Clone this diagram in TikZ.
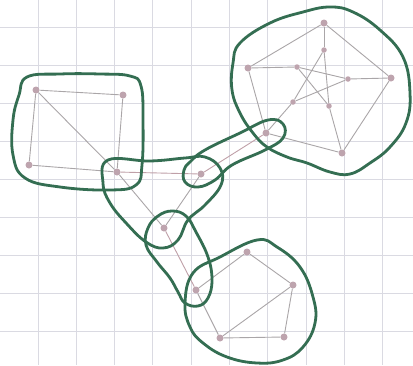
\documentclass[tikz,border=0pt]{standalone}
\definecolor{gridc}{RGB}{218,218,226}
\definecolor{ecol}{RGB}{170,166,168}
\definecolor{pcol}{RGB}{192,160,168}
\definecolor{vcol}{RGB}{190,164,174}
\definecolor{gcol}{RGB}{52,110,82}
\begin{document}
\begin{tikzpicture}[x=1pt,y=-1pt,
  vtx/.style={circle,fill=vcol,inner sep=0pt,minimum size=7pt},
  svtx/.style={circle,fill=vcol,inner sep=0pt,minimum size=5.5pt},
  edge/.style={draw=ecol,line width=0.9pt},
  pedge/.style={draw=pcol,line width=0.9pt},
  blob/.style={draw=gcol,line width=2.8pt,line join=round,line cap=round},
  gridline/.style={draw=gridc,line width=1pt}]
\fill[white] (0,0) rectangle (413,365);
\useasboundingbox (0,0) rectangle (413,365);
% grid paper
\foreach \k in {0,...,9} {\draw[gridline] (38+38.3*\k,0) -- (38+38.3*\k,365);}
\foreach \k in {0,...,8} {\draw[gridline] (0,27+38*\k) -- (413,27+38*\k);}
% vertices
\node[vtx] (A) at (36,90) {};
\node[vtx] (B) at (123,95) {};
\node[vtx] (C) at (29,165) {};
\node[vtx] (D) at (117,172) {};
\node[vtx] (E) at (201,174) {};
\node[vtx] (F) at (266,133) {};
\node[vtx] (G) at (164,228) {};
\node[vtx] (H) at (196,290) {};
\node[vtx] (P1) at (247,252) {};
\node[vtx] (P2) at (293,285) {};
\node[vtx] (P3) at (284,337) {};
\node[vtx] (P4) at (220,338) {};
\node[vtx] (O1) at (324,23) {};
\node[vtx] (O2) at (391,78) {};
\node[vtx] (O3) at (342,153) {};
\node[vtx] (O5) at (248,68) {};
\node[svtx] (I1) at (324,50) {};
\node[svtx] (I2) at (348,79) {};
\node[svtx] (I3) at (329,106) {};
\node[svtx] (I4) at (293,102) {};
\node[svtx] (I5) at (297,67) {};
% edges
\draw[edge] (A) -- (B);
\draw[edge] (A) -- (C);
\draw[edge] (B) -- (D);
\draw[edge] (C) -- (D);
\draw[edge] (A) -- (D);
\draw[pedge] (D) -- (E);
\draw[edge] (D) -- (G);
\draw[edge] (E) -- (G);
\draw[pedge] (E) -- (F);
\draw[pedge] (G) -- (H);
\draw[edge] (H) -- (P1);
\draw[edge] (P1) -- (P2);
\draw[edge] (P2) -- (P3);
\draw[edge] (P3) -- (P4);
\draw[edge] (P4) -- (H);
\draw[edge] (P2) -- (P4);
\draw[edge] (O1) -- (O2);
\draw[edge] (O2) -- (O3);
\draw[edge] (O3) -- (F);
\draw[edge] (F) -- (O5);
\draw[edge] (O5) -- (O1);
\draw[edge] (O1) -- (I1);
\draw[edge] (O2) -- (I2);
\draw[edge] (O3) -- (I3);
\draw[edge] (F) -- (I4);
\draw[edge] (O5) -- (I5);
\draw[edge] (I1) -- (I3);
\draw[edge] (I1) -- (I4);
\draw[edge] (I5) -- (I2);
\draw[edge] (I5) -- (I3);
\draw[edge] (I4) -- (I2);
% green blobs
\draw[blob] plot[smooth cycle,tension=0.7] coordinates {(27,77) (60,74) (100,74) (130,76) (141,86) (143,120) (142,165) (136,185) (110,190) (60,187) (25,178) (13,155) (13,120) (19,95)};
\draw[blob] plot[smooth cycle,tension=0.7] coordinates {(240,43) (270,23) (303,12) (330,7) (353,12) (380,30) (403,57) (410,93) (406,123) (390,147) (370,163) (350,174) (330,172) (307,163) (287,157) (267,147) (253,133) (240,113) (232,90) (233,63)};
\draw[blob] plot[smooth cycle,tension=0.7] coordinates {(193,273) (220,257) (257,240) (277,247) (300,267) (313,297) (315,323) (303,347) (283,360) (257,363) (227,357) (203,343) (190,327) (185,303)};
\draw[blob] plot[smooth cycle,tension=0.7] coordinates {(108,160) (150,161) (185,158) (205,157) (220,168) (221,185) (205,205) (188,220) (178,240) (163,248) (146,242) (127,224) (110,203) (103,183)};
\draw[blob] plot[smooth cycle,tension=0.7] coordinates {(190,162) (205,150) (240,133) (268,120) (283,124) (283,138) (265,150) (232,165) (215,180) (198,187) (185,182) (184,170)};
\draw[blob] plot[smooth cycle,tension=0.7] coordinates {(148,228) (158,216) (172,211) (186,216) (196,232) (208,257) (212,280) (208,298) (198,306) (185,303) (178,292) (170,278) (157,262) (146,245)};
\end{tikzpicture}
\end{document}
